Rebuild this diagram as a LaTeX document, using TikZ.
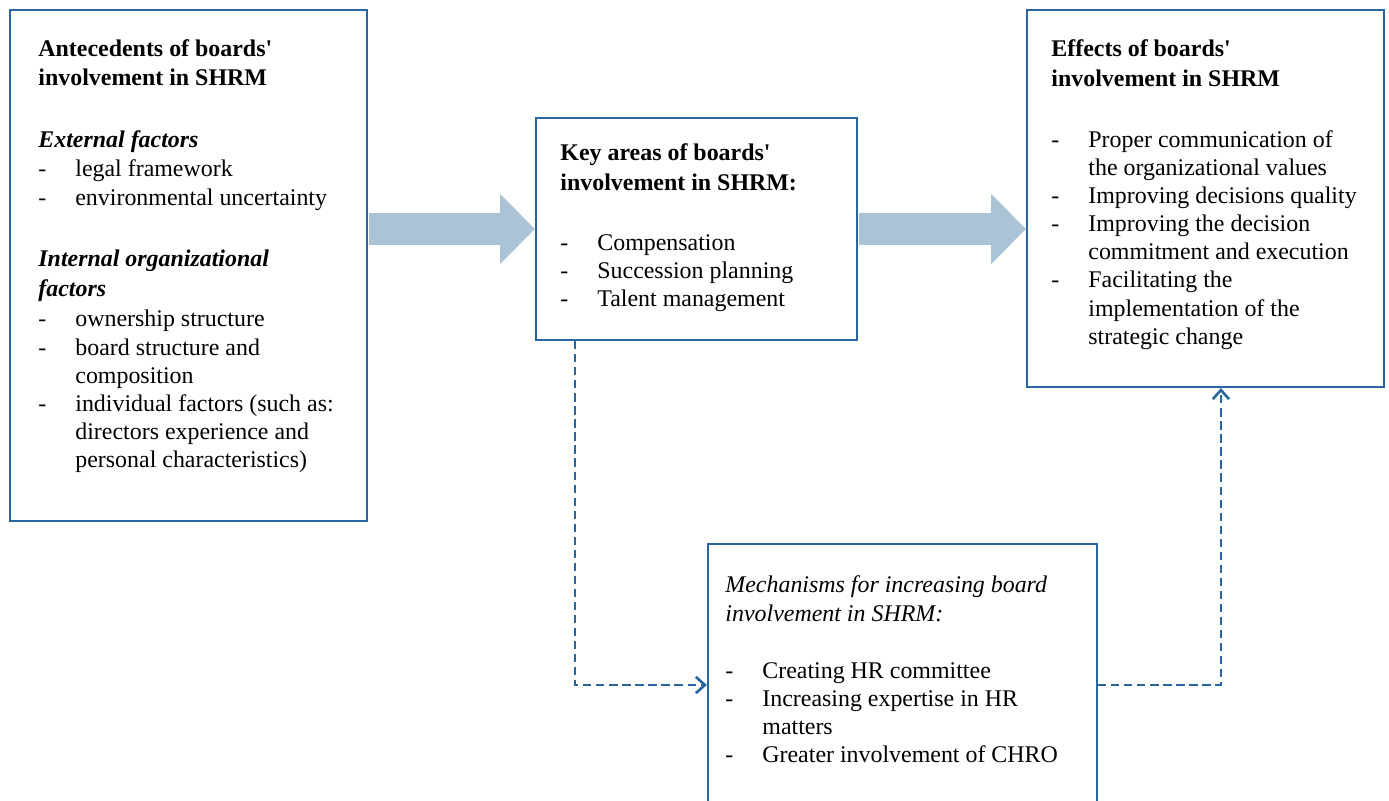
\documentclass[tikz,border=0pt]{standalone}
\usepackage{fontspec}
\setmainfont{Liberation Serif}
\usetikzlibrary{arrows.meta,fit,calc}
\definecolor{boxblue}{RGB}{41,101,158}
\definecolor{arrowblue}{RGB}{171,195,215}
\newcommand\itm[1]{\makebox[17pt][l]{-}#1}
\newcommand\cnt[1]{\hspace*{17pt}#1}
\newcommand\apos{\textquotesingle}
\begin{document}
\begin{tikzpicture}[x=0.46pt,y=-0.46pt,
 box/.style={draw=boxblue, line width=1pt, inner sep=0pt},
 txt/.style={anchor=north west, inner sep=0pt, align=left, font=\fontsize{11pt}{12.95pt}\selectfont, execute at begin node=\rule{0pt}{8pt}},
 bigarrow/.style={draw=arrowblue, line width=14.7pt, -{Triangle[length=16pt,width=31.3pt]}},
 dashconn/.style={draw=boxblue, line width=1.1pt, dash pattern=on 3.8pt off 2.2pt, -{Straight Barb[length=4.2pt,width=7.5pt,line width=1.2pt]}}
]
\clip (0,0) rectangle (1389,800);
\fill[white] (0,0) rectangle (1389,800);

% boxes
\node[box, fit={(10,10) (367,521)}] (A) {};
\node[box, fit={(536,118) (857,340)}] (B) {};
\node[box, fit={(1027,10) (1384,387)}] (C) {};
\node[box, fit={(708,544) (1097,826)}] (D) {};

% texts
\node[txt] (tA) at (38,39) {%
\textbf{Antecedents of boards\apos}\\[0.46pt]
\textbf{involvement in SHRM}\\[15.8pt]
\textbf{\textit{External factors}}\\
\itm{legal framework}\\[0.46pt]
\itm{environmental uncertainty}\\[15.2pt]
\textbf{\textit{Internal organizational}}\\[0.9pt]
\textbf{\textit{factors}}\\[1.0pt]
\itm{ownership structure}\\
\itm{board structure and}\\
\cnt{composition}\\
\itm{individual factors (such as:}\\
\cnt{directors experience and}\\
\cnt{personal characteristics)}};

\node[txt] (tB) at (560,143.6) {%
\textbf{Key areas of boards\apos}\\[0.46pt]
\textbf{involvement in SHRM:}\\[14.7pt]
\itm{Compensation}\\
\itm{Succession planning}\\
\itm{Talent management}};

\node[txt] (tC) at (1051,39.6) {%
\textbf{Effects of boards\apos}\\[0.46pt]
\textbf{involvement in SHRM}\\[15.2pt]
\itm{Proper communication of}\\
\cnt{the organizational values}\\
\itm{Improving decisions quality}\\
\itm{Improving the decision}\\
\cnt{commitment and execution}\\
\itm{Facilitating the}\\
\cnt{implementation of the}\\
\cnt{strategic change}};

\node[txt] (tD) at (725,575.6) {%
\textit{Mechanisms for increasing board}\\
\textit{involvement in SHRM:}\\[13.3pt]
\itm{Creating HR committee}\\
\itm{Increasing expertise in HR}\\
\cnt{matters}\\
\itm{Greater involvement of CHRO}};

% big arrows
\draw[bigarrow] ($(A.east |- B.west)+(1,0)$) -- (B.west);
\draw[bigarrow] ($(B.east)+(1,0)$) -- (C.west |- B.east);

% dashed connectors
\draw[dashconn] ($(B.south west)+(40,0)$) |- (D.west);
\draw[dashconn] (D.east) -| ($(C.south west)+(195,0)$);
\end{tikzpicture}
\end{document}
